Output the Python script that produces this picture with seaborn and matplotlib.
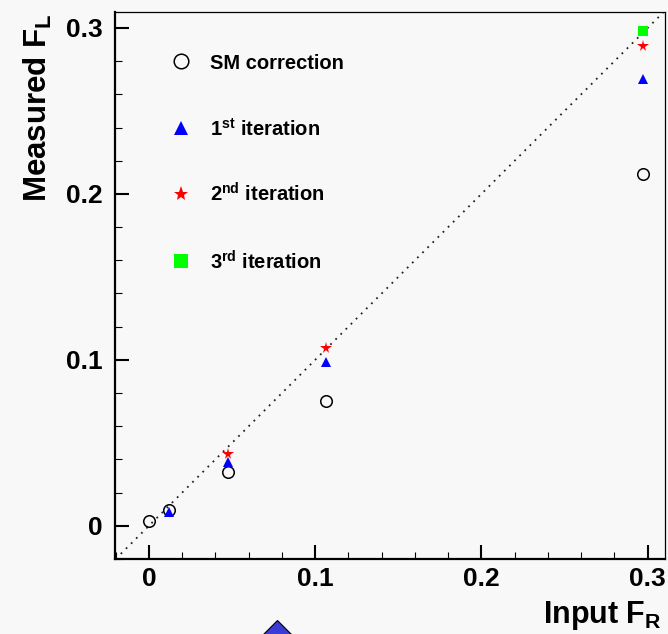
import matplotlib
matplotlib.use("Agg")
import matplotlib.pyplot as plt
import seaborn as sns
import numpy as np
import pandas as pd

# ---- data ----
input_fr = [0.0, 0.012, 0.0475, 0.1065, 0.297]
sm_correction = [0.003, 0.0095, 0.0325, 0.0755, 0.212]

iter1_x = [0.012, 0.0475, 0.1065, 0.297]
iter1_y = [0.0085, 0.0385, 0.0985, 0.269]

iter2_x = [0.0475, 0.1065, 0.297]
iter2_y = [0.0433, 0.107, 0.289]

iter3_x = [0.297]
iter3_y = [0.298]

# stray marker partly visible below the frame
stray_x = [0.077]
stray_y = [-0.069]

legend_labels = ["SM correction", "1$^{st}$ iteration", "2$^{nd}$ iteration", "3$^{rd}$ iteration"]
xticks = [0.0, 0.1, 0.2, 0.3]
yticks = [0.0, 0.1, 0.2, 0.3]
xtick_labels = ["0", "0.1", "0.2", "0.3"]
ytick_labels = ["0", "0.1", "0.2", "0.3"]

sns.set_theme(style="white")
bg = "#f8f8f8"
plt.rcParams.update({
    "font.family": ["Liberation Sans", "DejaVu Sans"],
    "font.weight": "bold",
    "mathtext.fontset": "custom",
    "mathtext.rm": "Liberation Sans:bold",
    "mathtext.it": "Liberation Sans:bold",
    "mathtext.bf": "Liberation Sans:bold",
    "mathtext.sf": "Liberation Sans:bold",
    "figure.facecolor": bg,
    "axes.facecolor": bg,
})

fig = plt.figure(figsize=(6.68, 6.34), dpi=100)
ax = fig.add_axes([115 / 668, 1 - 559 / 634, 550 / 668, 547 / 634])
ax.set_facecolor(bg)

# y = x reference line
ax.axline((0, 0), slope=1, color="#222222", linestyle=(0, (1, 3)), linewidth=1.3, zorder=1)

df_sm = pd.DataFrame({"x": input_fr, "y": sm_correction})
df_1 = pd.DataFrame({"x": iter1_x, "y": iter1_y})
df_2 = pd.DataFrame({"x": iter2_x, "y": iter2_y})
df_3 = pd.DataFrame({"x": iter3_x, "y": iter3_y})
df_s = pd.DataFrame({"x": stray_x, "y": stray_y})

common = dict(x="x", y="y", ax=ax, linestyle="", sort=False, estimator=None, legend=False)
sns.lineplot(data=df_sm, marker="o", markersize=8.3, markerfacecolor="none",
             markeredgecolor="black", markeredgewidth=1.1, color="black", zorder=3, **common)
sns.lineplot(data=df_1, marker="^", markersize=7.5, color="#0000ff",
             markeredgewidth=0, zorder=4, **common)
sns.lineplot(data=df_2, marker="*", markersize=8.5, color="#ff0000",
             markeredgewidth=0, zorder=5, **common)
sns.lineplot(data=df_3, marker="s", markersize=7, color="#00ff00",
             markeredgewidth=0, zorder=6, **common)
sns.lineplot(data=df_s, marker="D", markersize=20, color="#3b3bd6",
             markeredgecolor="black", markeredgewidth=0.8, zorder=2, **common)
ax.lines[-1].set_clip_on(False)

ax.set_xlim(-0.0204, 0.3104)
ax.set_ylim(-0.0192, 0.3096)

ax.set_xticks(xticks)
ax.set_xticklabels(xtick_labels)
ax.set_yticks(yticks)
ax.set_yticklabels(ytick_labels)
ax.set_xticks(np.arange(-0.02, 0.31, 0.02), minor=True)
ax.set_yticks(np.arange(-0.02, 0.31, 0.02), minor=True)

ax.tick_params(axis="both", which="both", bottom=True, left=True, top=False, right=False)
ax.tick_params(axis="both", which="major", direction="in", length=10, width=1.5,
               labelsize=19, color="black", labelcolor="black")
ax.tick_params(axis="both", which="minor", direction="in", length=5, width=0.8, color="black")
ax.tick_params(axis="x", which="major", pad=6.0)
ax.tick_params(axis="y", which="major", pad=9.0)
for lab in ax.get_xticklabels() + ax.get_yticklabels():
    lab.set_fontweight("bold")

for side in ["left", "bottom"]:
    ax.spines[side].set_linewidth(1.6)
    ax.spines[side].set_color("black")
for side in ["top", "right"]:
    ax.spines[side].set_linewidth(0.9)
    ax.spines[side].set_color("black")

ax.set_xlabel("Input $F_R$", fontsize=22, fontweight="bold", color="black",
              ha="right", va="baseline")
ax.xaxis.set_label_coords((662 - 115) / 550, (559 - 623) / 547)
ax.set_ylabel("Measured $F_L$", fontsize=22.5, fontweight="bold", color="black",
              ha="right", va="baseline")
ax.yaxis.set_label_coords((47 - 115) / 550, (559 - 14) / 547)

# manual legend keys
key_x = (181 - 115) / 550
txt_x = (210 - 115) / 550
key_rows = [61, 128, 194, 261]
key_styles = [
    dict(marker="o", markersize=10.5, markerfacecolor="none", markeredgecolor="black", markeredgewidth=1.1),
    dict(marker="^", markersize=10.5, color="#0000ff", markeredgewidth=0),
    dict(marker="*", markersize=11, color="#ff0000", markeredgewidth=0),
    dict(marker="s", markersize=10.2, color="#00ff00", markeredgewidth=0),
]
for row, style, label in zip(key_rows, key_styles, legend_labels):
    ky = (559 - row) / 547
    ax.plot([key_x], [ky], transform=ax.transAxes, linestyle="", clip_on=False, **style)
    ax.text(txt_x, (559 - row - 8) / 547, label, transform=ax.transAxes,
            fontsize=14.5, fontweight="bold", color="black", ha="left", va="baseline")

fig.savefig("out.png", dpi=100, facecolor=bg)
